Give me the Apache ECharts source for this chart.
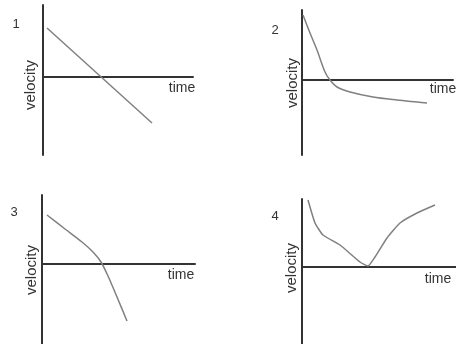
<!DOCTYPE html>
<html lang="en">
<head>
    <meta charset="UTF-8">
    <title>velocity - time</title>
    <script src="https://cdn.jsdelivr.net/npm/echarts@6/dist/echarts.min.js"></script>
</head>
<body style="margin:0;background:#fff;">
<div id="main" style="width:456px;height:344px;"></div>
<script>
    // 四张 v-t 草图, 数据单位: 1 格 = 10px
    var graph1 = [[0.4, 4.9], [10.9, -4.6]];
    var graph2 = [[0.1, 6.5], [0.8, 4.7], [1.5, 3.0], [2.3, 0.8], [2.8, 0], [3.5, -0.7], [4.8, -1.2],
        [7.1, -1.7], [9.5, -2.0], [11.5, -2.2], [12.5, -2.3]];
    var graph3 = [[0.5, 4.9], [2.3, 3.5], [4.0, 2.2], [5.1, 1.2], [5.9, 0.2], [6.6, -1.2], [7.5, -3.3], [8.5, -5.7]];
    var graph4 = [[0.6, 6.7], [1.3, 4.4], [2.1, 3.2], [3.8, 2.2], [5.8, 0.5], [6.6, 0.1], [7.3, 1.0],
        [8.5, 2.9], [9.8, 4.4], [11.5, 5.4], [13.3, 6.2]];
    var numbers = ['1', '2', '3', '4'];
    var xName = 'time';
    var yName = 'velocity';

    // grid 像素位置 + 轴范围
    var panels = [
        {left: 43, top: 5, width: 150, height: 150, xmax: 15, ymin: -7.8, ymax: 7.2, data: graph1, smooth: false},
        {left: 302, top: 10, width: 151, height: 145, xmax: 15.1, ymin: -7.5, ymax: 7.0, data: graph2, smooth: 0.3},
        {left: 42, top: 195, width: 153, height: 149, xmax: 15.3, ymin: -8.0, ymax: 6.9, data: graph3, smooth: 0.3},
        {left: 302, top: 199, width: 154, height: 145, xmax: 15.4, ymin: -7.7, ymax: 6.8, data: graph4, smooth: 0.15}
    ];

    var axisLine = {show: true, onZero: true, lineStyle: {color: '#333', width: 2}};
    var grids = [], xAxes = [], yAxes = [], series = [];
    panels.forEach(function (p, i) {
        grids.push({left: p.left, top: p.top, width: p.width, height: p.height});
        xAxes.push({
            type: 'value', gridIndex: i, min: 0, max: p.xmax,
            axisLine: axisLine, axisTick: {show: false}, axisLabel: {show: false}, splitLine: {show: false}
        });
        yAxes.push({
            type: 'value', gridIndex: i, min: p.ymin, max: p.ymax,
            axisLine: axisLine, axisTick: {show: false}, axisLabel: {show: false}, splitLine: {show: false}
        });
        series.push({
            type: 'line', xAxisIndex: i, yAxisIndex: i, data: p.data,
            smooth: p.smooth, showSymbol: false, silent: true,
            lineStyle: {color: '#808080', width: 1.5}
        });
    });

    var font = 'Liberation Sans, Arial, sans-serif';
    function txt(x, y, s, size, rot) {
        return {
            type: 'text', x: x, y: y, rotation: rot || 0,
            style: {text: s, fill: '#333', font: size + 'px ' + font, textAlign: 'center', textVerticalAlign: 'middle'}
        };
    }
    var labels = [
        txt(16, 24, numbers[0], 13), txt(275, 30, numbers[1], 13),
        txt(14, 212, numbers[2], 13), txt(275, 216, numbers[3], 13),
        txt(31, 85, yName, 15, Math.PI / 2), txt(293, 83, yName, 15, Math.PI / 2),
        txt(32, 270, yName, 15, Math.PI / 2), txt(292, 268, yName, 15, Math.PI / 2),
        txt(182, 88, xName, 14), txt(443, 89, xName, 14),
        txt(181, 275, xName, 14), txt(438, 279, xName, 14)
    ];

    var chart = echarts.init(document.getElementById('main'));
    chart.setOption({
        animation: false,
        grid: grids,
        xAxis: xAxes,
        yAxis: yAxes,
        series: series,
        graphic: labels
    });
</script>
</body>
</html>
